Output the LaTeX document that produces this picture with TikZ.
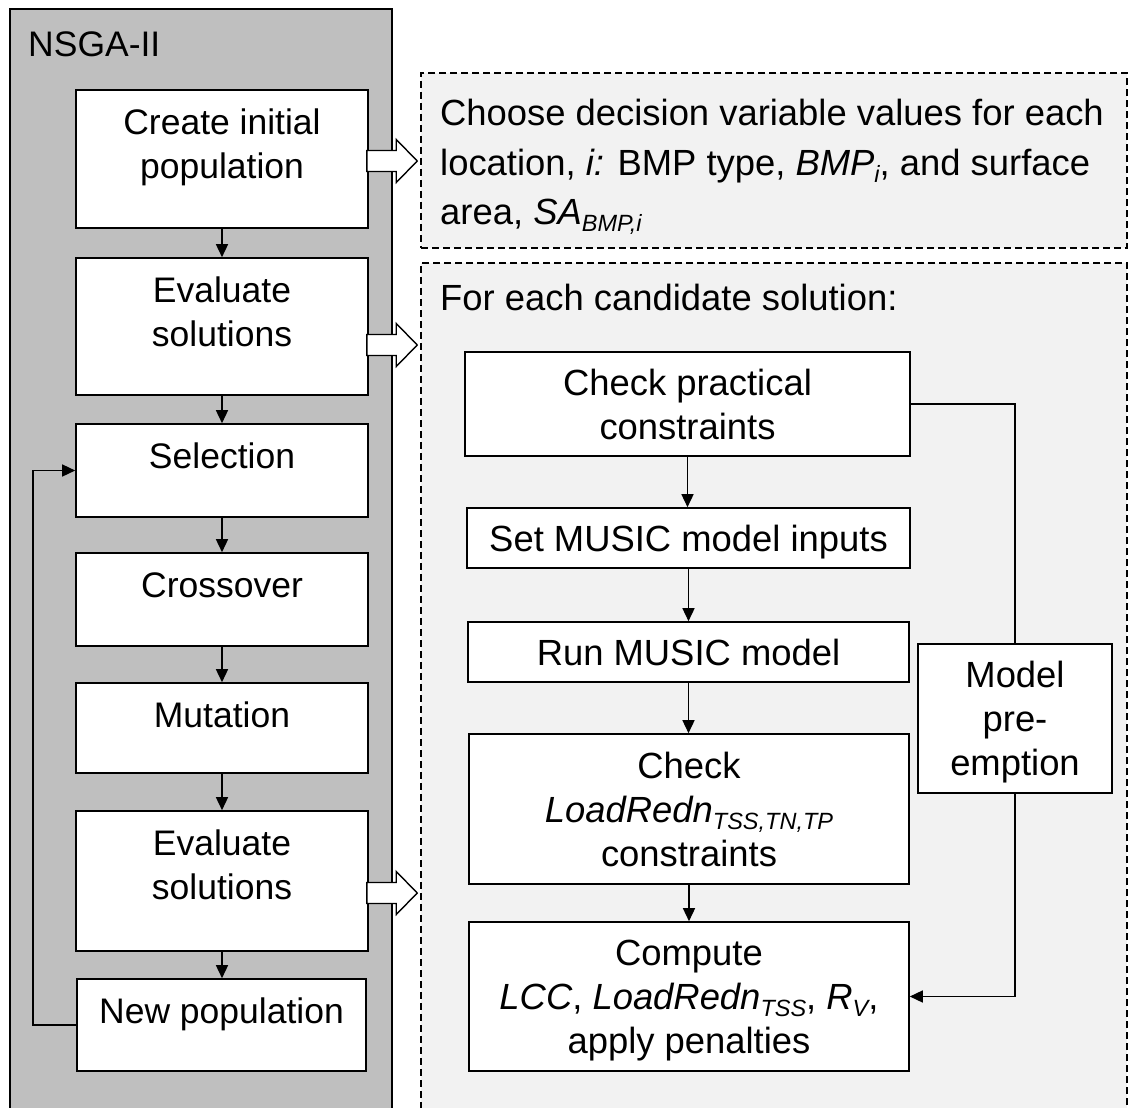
\documentclass[tikz,border=0pt]{standalone}
\usepackage{fontspec}
\setmainfont{Liberation Sans}
\usetikzlibrary{arrows.meta,calc}

\definecolor{panelgray}{HTML}{BFBFBF}
\definecolor{paneltint}{HTML}{F2F2F2}

% type sizes: loop boxes, evaluation boxes, note text
\newcommand\fontL{\fontsize{35.5}{44}\selectfont}
\newcommand\fontR{\fontsize{36.4}{44}\selectfont}
\newcommand\fontRwide{\fontsize{36.4}{50}\selectfont}
% lowered small subscript in running text
\newcommand\subx[1]{\raisebox{-7pt}{\fontsize{23.5}{23.5}\selectfont #1}}
% top-aligned centred text in a box of fixed width and height
\newcommand\lefttext[3]{\parbox[c][#2][t]{#1}{\centering\rule{0pt}{44pt}#3}}

\tikzset{
  panel/.style={draw=black, line width=1.6pt, fill=panelgray, inner sep=0pt},
  notebox/.style={draw=black, line width=1.5pt, dash pattern=on 7pt off 4pt, fill=paneltint, inner sep=0pt},
  algbox/.style={draw=black, line width=1.6pt, fill=white, inner sep=0pt, font=\fontL},
  evalbox/.style={draw=black, line width=1.6pt, fill=white, inner sep=0pt, font=\fontR,
                  align=center, text depth=0pt},
  flow/.style={draw=black, line width=1.5pt, -{Triangle[length=13pt,width=12pt]}},
  plain/.style={draw=black, line width=1.5pt},
  blockar/.style={draw=black, line width=1.4pt, fill=white, line join=miter}
}

% hollow block arrow from a start point to a tip point (same height)
\newcommand\blockarrow[2]{%
  \draw[blockar] let \p1=(#1), \p2=(#2) in
    (\x1,\y1+10.5pt) -- (\x2-21pt,\y1+10.5pt) -- (\x2-21pt,\y1+21.5pt) --
    (\x2,\y1) -- (\x2-21pt,\y1-21.5pt) -- (\x2-21pt,\y1-10.5pt) --
    (\x1,\y1-10.5pt) -- cycle;}

\begin{document}
\begin{tikzpicture}[x=1pt, y=-1pt]
\useasboundingbox (0,0) rectangle (1128,1108);
\clip (0,0) rectangle (1128,1108);

% ---- NSGA-II loop ----
\node[panel, minimum width=382pt, minimum height=1116pt] (nsga) at (201,567) {};
\node[anchor=base west, font=\fontL, inner sep=0pt] (title) at (28,57) {NSGA-II};

\node[algbox] (create) at (222,159)   {\lefttext{292pt}{138pt}{Create initial\\population}};
\node[algbox] (eval1)  at (222,326.5) {\lefttext{292pt}{137pt}{Evaluate\\solutions}};
\node[algbox] (select) at (222,470.5) {\lefttext{292pt}{93pt}{Selection}};
\node[algbox] (cross)  at (222,599.5) {\lefttext{292pt}{93pt}{Crossover}};
\node[algbox] (mutate) at (222,728)   {\lefttext{292pt}{90pt}{Mutation}};
\node[algbox] (eval2)  at (222,881)   {\lefttext{292pt}{140pt}{Evaluate\\solutions}};
\node[algbox] (newpop) at (221.5,1025){\lefttext{289pt}{92pt}{New population}};

\draw[flow] (create.south) -- (eval1.north);
\draw[flow] (eval1.south)  -- (select.north);
\draw[flow] (select.south) -- (cross.north);
\draw[flow] (cross.south)  -- (mutate.north);
\draw[flow] (mutate.south) -- (eval2.north);
\draw[flow] (eval2.south)  -- (eval2.south |- newpop.north);
\draw[flow] (newpop.west) -- ++(-43,0) |- (select.west);

% ---- notes on the right ----
\node[notebox, minimum width=706pt, minimum height=175pt] (choose) at (774,160.5) {};
\node[anchor=base west, inner sep=0pt, font=\fontRwide] (choosetext) at (440,125)
  {\parbox[t]{700pt}{\raggedright Choose decision variable values for each\\
   location, \textit{i:} BMP type, \textit{BMP\subx{i}}, and surface\\
   area, \textit{SA\subx{BMP,i}}}};

\node[notebox, minimum width=706pt, minimum height=862pt] (cand) at (774,694) {};
\node[anchor=base west, inner sep=0pt, font=\fontR] (candtext) at (440,310)
  {For each candidate solution:};

\node[evalbox, minimum width=445pt, minimum height=104pt] (practical) at (687.5,404)
  {Check practical\\constraints};
\node[evalbox, minimum width=443pt, minimum height=60pt] (inputs) at (688.5,538)
  {Set MUSIC model inputs};
\node[evalbox, minimum width=441pt, minimum height=60pt] (run) at (688.5,652)
  {Run MUSIC model};
\node[evalbox, minimum width=440pt, minimum height=150pt] (loadchk) at (689,809)
  {Check\\\textit{LoadRedn\subx{TSS,TN,TP}}\\constraints};
\node[evalbox, minimum width=440pt, minimum height=149pt] (compute) at (689,996.5)
  {Compute\\\textit{LCC}, \textit{LoadRedn\subx{TSS}}, \textit{R\subx{V}},\\apply penalties};
\node[evalbox, minimum width=194pt, minimum height=149pt] (preempt) at (1015,718.5)
  {Model\\pre-\\emption};

\draw[flow] (practical.south) -- (practical.south |- inputs.north);
\draw[flow] (inputs.south)    -- (inputs.south |- run.north);
\draw[flow] (run.south)       -- (run.south |- loadchk.north);
\draw[flow] (loadchk.south)   -- (loadchk.south |- compute.north);
\draw[plain] (practical.east) -| (preempt.north);
\draw[flow] (preempt.south) |- (compute.east);

% ---- hollow arrows from the loop to the notes ----
\coordinate (s1) at ($(create.east)+(-2,2)$);
\coordinate (t1) at ($(s1 -| choose.west)+(-3,0)$);
\coordinate (s2) at ($(eval1.east)+(-2,18.5)$);
\coordinate (t2) at ($(s2 -| cand.west)+(-3,0)$);
\coordinate (s3) at ($(eval2.east)+(-2,12)$);
\coordinate (t3) at ($(s3 -| cand.west)+(-3,0)$);
\blockarrow{s1}{t1}
\blockarrow{s2}{t2}
\blockarrow{s3}{t3}
\end{tikzpicture}
\end{document}
